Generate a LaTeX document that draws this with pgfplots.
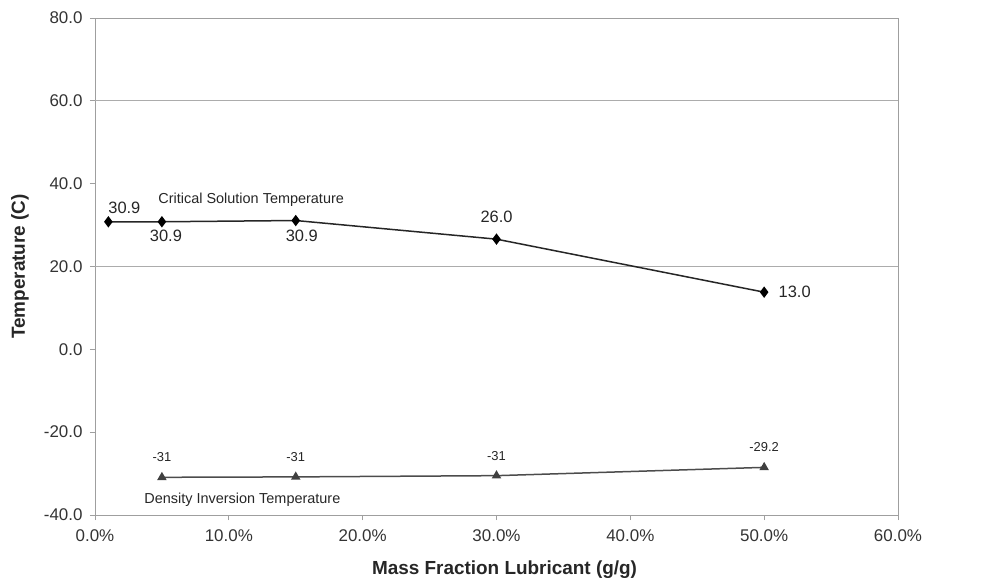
\documentclass[border=0pt]{standalone}
\usepackage{pgfplots}
\pgfplotsset{compat=1.18}
\usepackage{fontspec}
\setmainfont{Liberation Sans}
\begin{document}
\begin{tikzpicture}
\begin{axis}[
  scale only axis, width=803bp, height=497bp,
  xmin=0, xmax=0.6, ymin=-40, ymax=80,
  xtick={0,0.1,0.2,0.3,0.4,0.5,0.6},
  xticklabels={0.0\%,10.0\%,20.0\%,30.0\%,40.0\%,50.0\%,60.0\%},
  ytick={-40,-20,0,20,40,60,80},
  yticklabels={-40.0,-20.0,0.0,20.0,40.0,60.0,80.0},
  xtick pos=lower, ytick pos=left,
  tick align=outside, major tick length=5bp,
  tick label style={font=\fontsize{17}{20}\selectfont, text=black!80},
  xticklabel style={yshift=-6bp},
  yticklabel style={xshift=-4bp},
  axis line style={gray!75, line width=0.9pt},
  tick style={gray!75, line width=0.8pt},
  extra y ticks={20,60}, extra y tick labels={},
  extra y tick style={grid=major, major tick length=0pt},
  grid style={gray!65, line width=0.9pt},
  xlabel={Mass Fraction Lubricant (g/g)},
  ylabel={Temperature (C)},
  label style={font=\fontsize{19}{22}\selectfont\bfseries, text=black!85},
  xlabel style={at={(axis description cs:0.51,-0.1207)}, anchor=base},
  ylabel style={at={(axis description cs:-0.0934,0.5)}, anchor=center},
  clip=false,
]
\addplot[black!85, line width=1.5bp, mark=diamond*, mark size=4.5bp, mark options={fill=black, draw=black}]
  coordinates {(0.01,30.8) (0.05,30.8) (0.15,31.1) (0.30,26.6) (0.50,13.8)};
\addplot[black!70, line width=1.5bp, mark=triangle*, mark size=4bp, mark options={fill=black!75, draw=black!75}]
  coordinates {(0.05,-30.9) (0.15,-30.8) (0.30,-30.5) (0.50,-28.5)};

\begin{scope}[every node/.style={text=black!85}]
\node[font=\fontsize{16.5}{19}\selectfont, xshift=16bp, yshift=14bp] at (axis cs:0.01,30.8) {30.9};
\node[font=\fontsize{16.5}{19}\selectfont, xshift=4bp, yshift=-14bp] at (axis cs:0.05,30.8) {30.9};
\node[font=\fontsize{16.5}{19}\selectfont, xshift=6bp, yshift=-15bp] at (axis cs:0.15,31.1) {30.9};
\node[font=\fontsize{16.5}{19}\selectfont, yshift=22bp] at (axis cs:0.30,26.6) {26.0};
\node[font=\fontsize{16.5}{19}\selectfont, anchor=west, xshift=11bp] at (axis cs:0.50,13.8) {13.0};
\node[font=\fontsize{14.5}{17}\selectfont, anchor=west, xshift=-7bp] at (axis cs:0.05,36.1) {Critical Solution Temperature};
\node[font=\fontsize{13}{15}\selectfont, yshift=20bp] at (axis cs:0.05,-30.9) {-31};
\node[font=\fontsize{13}{15}\selectfont, yshift=20bp] at (axis cs:0.15,-30.8) {-31};
\node[font=\fontsize{13}{15}\selectfont, yshift=20bp] at (axis cs:0.30,-30.5) {-31};
\node[font=\fontsize{13}{15}\selectfont, yshift=20bp] at (axis cs:0.50,-28.5) {-29.2};
\node[font=\fontsize{14.5}{17}\selectfont, anchor=west, xshift=-21bp] at (axis cs:0.05,-36.4) {Density Inversion Temperature};
\end{scope}
\path (rel axis cs:0,0) ++(-95bp,-65bp) rectangle ++(989bp,580bp);
\end{axis}
\end{tikzpicture}
\end{document}
